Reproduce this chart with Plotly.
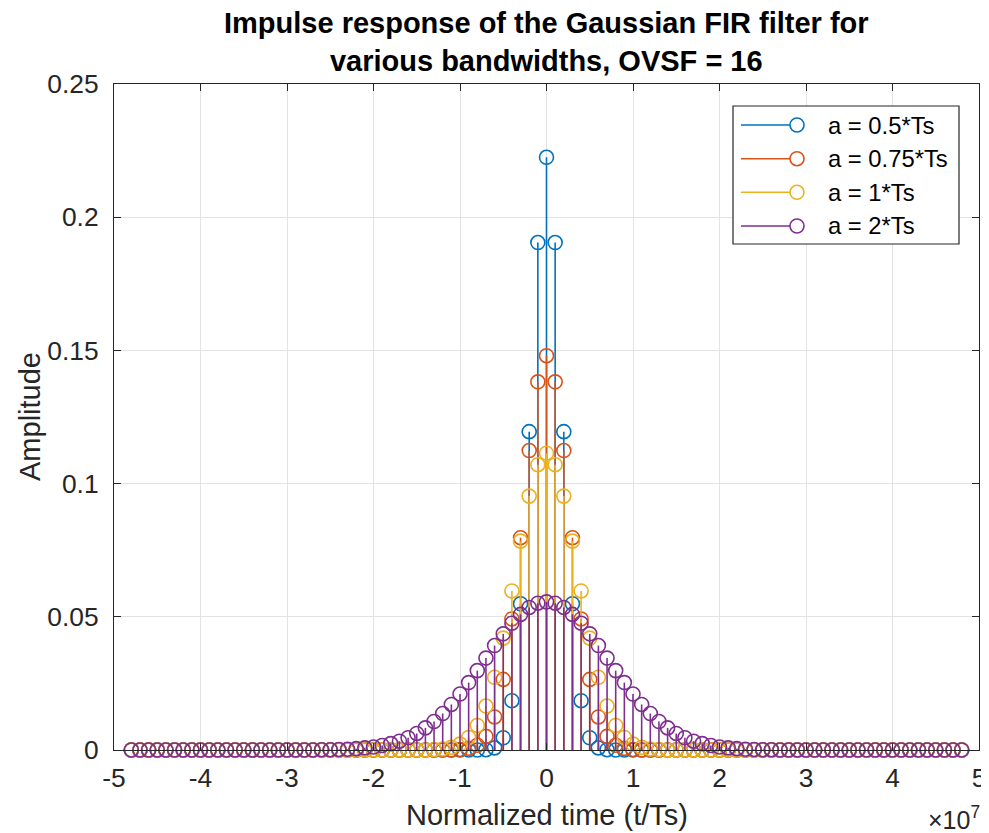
import plotly.graph_objects as go

# ---------------- data ----------------
# sample times, in units of 1e7 (axis shows x10^7)
t_norm = [
    -4.8, -4.7, -4.6, -4.5, -4.4, -4.3, -4.2, -4.1, -4.0, -3.9,
    -3.8, -3.7, -3.6, -3.5, -3.4, -3.3, -3.2, -3.1, -3.0, -2.9,
    -2.8, -2.7, -2.6, -2.5, -2.4, -2.3, -2.2, -2.1, -2.0, -1.9,
    -1.8, -1.7, -1.6, -1.5, -1.4, -1.3, -1.2, -1.1, -1.0, -0.9,
    -0.8, -0.7, -0.6, -0.5, -0.4, -0.3, -0.2, -0.1, 0.0, 0.1,
    0.2, 0.3, 0.4, 0.5, 0.6, 0.7, 0.8, 0.9, 1.0, 1.1,
    1.2, 1.3, 1.4, 1.5, 1.6, 1.7, 1.8, 1.9, 2.0, 2.1,
    2.2, 2.3, 2.4, 2.5, 2.6, 2.7, 2.8, 2.9, 3.0, 3.1,
    3.2, 3.3, 3.4, 3.5, 3.6, 3.7, 3.8, 3.9, 4.0, 4.1,
    4.2, 4.3, 4.4, 4.5, 4.6, 4.7, 4.8,
]

h_a05 = [
    0, 0, 0, 0, 0, 0, 0, 0, 0, 0,
    0, 0, 0, 0, 0, 0, 0, 0, 0, 0,
    0, 0, 0, 0, 0, 0, 0, 0, 0, 0,
    0, 0, 0, 0, 0, 0, 0, 0, 0, 0,
    0,
    0.0001, 0.0008, 0.0046, 0.0185, 0.0549, 0.1195, 0.1905,
    0.2225,
    0.1905, 0.1195, 0.0549, 0.0185, 0.0046, 0.0008, 0.0001,
    0,
    0, 0, 0, 0, 0, 0, 0, 0, 0, 0,
    0, 0, 0, 0, 0, 0, 0, 0, 0, 0,
    0, 0, 0, 0, 0, 0, 0, 0, 0, 0,
    0, 0, 0, 0, 0, 0, 0, 0, 0, 0,
]

h_a075 = [
    0, 0, 0, 0, 0, 0, 0, 0, 0, 0,
    0, 0, 0, 0, 0, 0, 0, 0, 0, 0,
    0, 0, 0, 0, 0, 0, 0, 0, 0, 0,
    0, 0, 0, 0, 0, 0, 0, 0,
    0.0002, 0.0006, 0.0018, 0.0051, 0.0124, 0.0265, 0.0492, 0.0797, 0.1124, 0.1382,
    0.1480,
    0.1382, 0.1124, 0.0797, 0.0492, 0.0265, 0.0124, 0.0051, 0.0018, 0.0006, 0.0002,
    0, 0, 0, 0, 0, 0, 0, 0,
    0, 0, 0, 0, 0, 0, 0, 0, 0, 0,
    0, 0, 0, 0, 0, 0, 0, 0, 0, 0,
    0, 0, 0, 0, 0, 0, 0, 0, 0, 0,
]

h_a1 = [
    0, 0, 0, 0, 0, 0, 0, 0, 0, 0,
    0, 0, 0, 0, 0, 0, 0, 0, 0, 0,
    0, 0, 0, 0, 0, 0, 0, 0, 0, 0,
    0, 0, 0, 0, 0,
    0.0002, 0.0004, 0.0010, 0.0022, 0.0047, 0.0092, 0.0165, 0.0273, 0.0420, 0.0597,
    0.0784, 0.0953, 0.1071,
    0.1114,
    0.1071, 0.0953, 0.0784,
    0.0597, 0.0420, 0.0273, 0.0165, 0.0092, 0.0047, 0.0022, 0.0010, 0.0004, 0.0002,
    0, 0, 0, 0, 0,
    0, 0, 0, 0, 0, 0, 0, 0, 0, 0,
    0, 0, 0, 0, 0, 0, 0, 0, 0, 0,
    0, 0, 0, 0, 0, 0, 0, 0, 0, 0,
]

h_a2 = [
    0, 0, 0, 0, 0, 0, 0, 0, 0, 0,
    0, 0, 0, 0, 0, 0, 0, 0, 0, 0,
    0, 0,
    0.0001, 0.0001, 0.0002, 0.0003, 0.0005, 0.0008, 0.0011, 0.0017, 0.0024, 0.0033,
    0.0046, 0.0062, 0.0083, 0.0107, 0.0137, 0.0171, 0.0210, 0.0253, 0.0298, 0.0345,
    0.0392, 0.0436, 0.0476, 0.0509, 0.0535, 0.0551,
    0.0556,
    0.0551, 0.0535, 0.0509, 0.0476, 0.0436, 0.0392,
    0.0345, 0.0298, 0.0253, 0.0210, 0.0171, 0.0137, 0.0107, 0.0083, 0.0062, 0.0046,
    0.0033, 0.0024, 0.0017, 0.0011, 0.0008, 0.0005, 0.0003, 0.0002, 0.0001, 0.0001,
    0, 0,
    0, 0, 0, 0, 0, 0, 0, 0, 0, 0,
    0, 0, 0, 0, 0, 0, 0, 0, 0, 0,
]

series_names = ["a = 0.5*Ts", "a = 0.75*Ts", "a = 1*Ts", "a = 2*Ts"]
series_values = [h_a05, h_a075, h_a1, h_a2]
series_colors = ["#0072BD", "#D95319", "#EDB120", "#7E2F8E"]

x_tick_vals = [-5, -4, -3, -2, -1, 0, 1, 2, 3, 4, 5]
x_tick_text = ["-5", "-4", "-3", "-2", "-1", "0", "1", "2", "3", "4", "5"]
y_tick_vals = [0, 0.05, 0.1, 0.15, 0.2, 0.25]
y_tick_text = ["0", "0.05", "0.1", "0.15", "0.2", "0.25"]

title_text = "Impulse response of the Gaussian FIR filter for<br>various bandwidths, OVSF = 16"
x_label = "Normalized time (t/Ts)"
y_label = "Amplitude"
x_exponent = "\u00d710<sup>7</sup>"

# ---------------- layout geometry ----------------
FONT = "Liberation Sans, Arial, Helvetica, sans-serif"
AX = "#262626"
MS = 14
LW = 1.6

PAGE_OFF = 8            # default body margin of the html page
W, H = 989 - PAGE_OFF, 833 - PAGE_OFF
PL, PR, PT, PB = 114, 979, 84, 750   # plot area in screen pixels
ML, MT = PL - PAGE_OFF, PT - PAGE_OFF
MR = W - (PR - PAGE_OFF)
MB = H - (PB - PAGE_OFF)
PW, PH = PR - PL, PB - PT


def sx(X):
    return (X - PL) / PW


def sy(Y):
    return (PB - Y) / PH


fig = go.Figure()

for name, vals, col in zip(series_names, series_values, series_colors):
    xs, ys = [], []
    for xv, yv in zip(t_norm, vals):
        xs += [xv, xv, None]
        ys += [0, yv, None]
    fig.add_trace(go.Scatter(x=xs, y=ys, mode="lines",
                             line=dict(color=col, width=LW),
                             showlegend=False, hoverinfo="skip"))
    fig.add_trace(go.Scatter(x=t_norm, y=vals, mode="markers", name=name,
                             marker=dict(symbol="circle-open", size=MS,
                                         color=col, line=dict(color=col, width=LW)),
                             cliponaxis=False, showlegend=False))

axis_common = dict(
    showgrid=True, gridcolor="#e3e3e3", gridwidth=1,
    showline=True, linecolor=AX, linewidth=1.2, mirror="allticks",
    ticks="inside", ticklen=7, tickcolor=AX, tickwidth=1.2,
    tickfont=dict(family=FONT, size=26.4, color=AX),
    zeroline=False,
)

# ---- legend drawn as box + sample lines + circles + text ----
shapes = [dict(type="rect", xref="paper", yref="paper",
               x0=sx(733), x1=sx(959), y0=sy(244), y1=sy(106),
               line=dict(color=AX, width=1.2), fillcolor="white", layer="above")]
annotations = []
leg_y = [125, 158.7, 192.3, 226]
R = 7
for name, col, yc in zip(series_names, series_colors, leg_y):
    shapes.append(dict(type="line", xref="paper", yref="paper",
                       x0=sx(741), x1=sx(797 - R), y0=sy(yc), y1=sy(yc),
                       line=dict(color=col, width=LW), layer="above"))
    shapes.append(dict(type="circle", xref="paper", yref="paper",
                       x0=sx(797 - R), x1=sx(797 + R), y0=sy(yc + R), y1=sy(yc - R),
                       line=dict(color=col, width=LW), layer="above"))
    annotations.append(dict(text=name, xref="paper", yref="paper",
                            x=sx(826), y=sy(yc), xanchor="left", yanchor="middle",
                            showarrow=False,
                            font=dict(family=FONT, size=23.8, color="#000000")))

annotations += [
    dict(text="<b>" + title_text + "</b>", xref="paper", yref="paper",
         x=0.5, y=sy(42), xanchor="center", yanchor="middle", showarrow=False,
         font=dict(family=FONT, size=29, color="#000000")),
    dict(text=x_label, xref="paper", yref="paper", x=0.5, y=sy(815),
         xanchor="center", yanchor="middle", showarrow=False,
         font=dict(family=FONT, size=29, color=AX)),
    dict(text=y_label, xref="paper", yref="paper", x=sx(30), y=sy(417),
         xanchor="center", yanchor="middle", textangle=-90, showarrow=False,
         font=dict(family=FONT, size=29, color=AX)),
    dict(text=x_exponent, xref="paper", yref="paper", x=sx(982),
         y=sy(818), xanchor="right", yanchor="middle", showarrow=False,
         font=dict(family=FONT, size=25, color=AX)),
]

fig.update_layout(
    width=W, height=H,
    margin=dict(l=ML, r=MR, t=MT, b=MB, autoexpand=False),
    paper_bgcolor="white", plot_bgcolor="white",
    font=dict(family=FONT, color=AX),
    xaxis=dict(range=[-5, 5], tickmode="array", tickvals=x_tick_vals,
               ticktext=x_tick_text, ticklabelstandoff=4, **axis_common),
    yaxis=dict(range=[0, 0.25], tickmode="array", tickvals=y_tick_vals,
               ticktext=y_tick_text, ticklabelstandoff=9, **axis_common),
    showlegend=False,
    shapes=shapes,
    annotations=annotations,
)

fig.write_html("out.html")
